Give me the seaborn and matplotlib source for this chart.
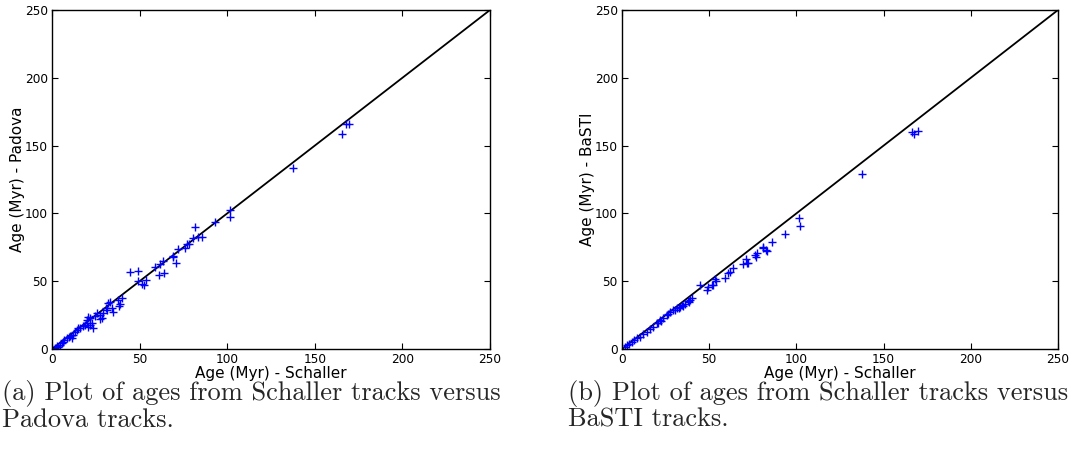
import matplotlib
matplotlib.use("Agg")
import matplotlib.pyplot as plt
import seaborn as sns
import pandas as pd

# Panel (a): Schaller vs Padova ages (Myr)
schaller_a = [165.3, 167.6, 169.5, 137.6, 101.8, 101.6, 93.0, 81.8, 80.7, 83.2, 85.6,
              75.9, 77.0, 78.2, 71.9, 69.2, 68.9, 70.8, 63.5, 61.9, 58.8, 63.9, 61.0,
              44.5, 49.2, 49.0, 53.9, 51.5, 52.7,
              39.8, 37.9, 38.8, 38.2, 32.1, 33.1, 34.1, 31.2, 34.6, 30.6, 28.4, 25.9,
              27.4, 27.4, 28.9, 21.7, 19.8, 22.6, 20.7, 23.2, 18.8, 21.7, 19.8, 20.7,
              15.0, 13.1, 14.1, 12.2, 10.3, 11.2, 8.4, 6.5, 4.6, 3.6, 2.7, 17.5, 16.0,
              9.5, 24.5, 7.0, 5.5, 1.5]
padova = [158.3, 165.7, 165.7, 133.5, 102.7, 97.3, 93.4, 89.7, 82.1, 82.6, 82.6,
          74.3, 77.4, 77.4, 73.5, 68.8, 67.6, 63.6, 65.1, 62.7, 60.7, 56.3, 54.6,
          56.5, 57.8, 50.1, 50.6, 47.9, 47.2,
          37.4, 36.1, 33.2, 31.7, 33.7, 34.9, 30.0, 28.8, 27.5, 30.0, 22.6, 26.3,
          21.9, 25.1, 26.8, 22.6, 21.4, 19.0, 16.4, 15.3, 17.7, 17.7, 19.4, 23.4,
          15.3, 12.8, 14.0, 10.3, 9.6, 7.9, 7.9, 5.4, 3.0, 1.7, 2.2, 17.0, 15.5,
          9.0, 24.0, 6.5, 4.5, 0.8]

# Panel (b): Schaller vs BaSTI ages (Myr)
schaller_b = [166.1, 167.4, 169.9, 137.8, 101.7, 102.1, 93.3, 85.8, 81.0, 82.6, 83.0,
              80.7, 76.3, 77.5, 76.8, 70.9, 71.5, 72.4, 69.4, 63.8, 61.9, 61.0, 59.1,
              53.9, 53.3, 52.3, 51.4, 48.6, 49.5, 44.5,
              40.0, 39.0, 38.6, 38.0, 35.1, 34.2, 33.3, 31.4, 29.4, 27.5, 25.6, 23.7,
              21.8, 19.9, 17.9, 14.2, 12.2, 10.3, 8.4, 5.6, 2.7, 30.5, 32.5, 36.0,
              26.5, 22.5, 20.5, 16.0, 6.8, 4.0, 1.5]
basti = [159.8, 158.6, 161.0, 128.8, 96.4, 90.9, 84.5, 79.1, 75.2, 73.0, 72.3,
         74.3, 69.5, 70.8, 68.1, 66.2, 63.6, 63.2, 62.9, 59.5, 57.0, 56.0, 52.6,
         50.2, 51.4, 47.2, 47.2, 43.5, 45.4, 47.4,
         37.4, 36.1, 34.9, 35.4, 31.7, 32.4, 31.2, 30.0, 28.8, 27.5, 25.1, 23.1,
         21.4, 19.0, 16.4, 12.8, 11.1, 9.1, 7.9, 5.4, 3.0, 28.5, 30.5, 33.0,
         25.8, 21.0, 19.5, 15.0, 6.3, 3.8, 1.3]

ticks = [0, 50, 100, 150, 200, 250]
xlabel = "Age (Myr) - Schaller"
ylabels = ["Age (Myr) - Padova", "Age (Myr) - BaSTI"]
captions = ["(a) Plot of ages from Schaller tracks versus\nPadova tracks.",
            "(b) Plot of ages from Schaller tracks versus\nBaSTI tracks."]

sns.set_theme(style="white", rc={
    "xtick.direction": "in", "ytick.direction": "in",
    "xtick.top": True, "ytick.right": True,
    "xtick.bottom": True, "ytick.left": True,
    "xtick.major.size": 4, "ytick.major.size": 4,
    "xtick.major.width": 0.8, "ytick.major.width": 0.8,
    "axes.edgecolor": "black", "axes.linewidth": 1.0,
    "xtick.color": "black", "ytick.color": "black",
    "axes.labelcolor": "black",
})
plt.rcParams['font.family'] = ['DejaVu Sans']

fig = plt.figure(figsize=(10.78, 4.67), dpi=100)
W, H = 1078, 467
ax_a = fig.add_axes([52 / W, (H - 349) / H, 438 / W, 339 / H])
ax_b = fig.add_axes([622 / W, (H - 349) / H, 436 / W, 339 / H])

df_a = pd.DataFrame({"x": schaller_a, "y": padova})
df_b = pd.DataFrame({"x": schaller_b, "y": basti})

for ax, df, ylab in [(ax_a, df_a, ylabels[0]), (ax_b, df_b, ylabels[1])]:
    ax.axline((0, 0), slope=1, color="black", lw=1.3, zorder=1)
    sns.scatterplot(data=df, x="x", y="y", ax=ax, marker="+", color="blue",
                    s=40, linewidth=1.0, zorder=2)
    ax.set_xlim(ticks[0], ticks[-1])
    ax.set_ylim(ticks[0], ticks[-1])
    ax.set_xticks(ticks)
    ax.set_yticks(ticks)
    ax.tick_params(labelsize=8.7, pad=3)
    ax.set_xlabel(xlabel, fontsize=11, labelpad=0)
    ax.set_ylabel(ylab, fontsize=11, labelpad=0)
    for sp in ax.spines.values():
        sp.set_visible(True)

fig.text(2 / W, 1 - 380 / H, captions[0], family="cmr10", fontsize=19,
         va="top", ha="left", linespacing=1.05)
fig.text(568 / W, 1 - 380 / H, captions[1], family="cmr10", fontsize=19,
         va="top", ha="left", linespacing=1.05)

fig.savefig("out.png", dpi=100)
